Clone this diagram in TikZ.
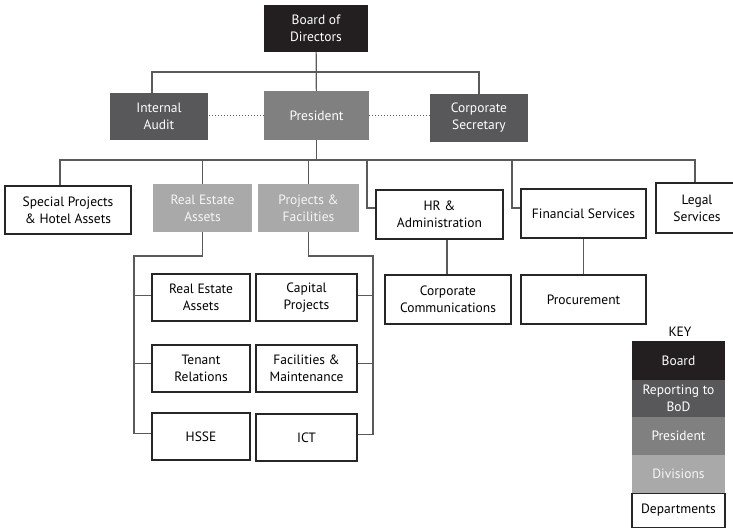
\documentclass[tikz,border=0pt]{standalone}
\usepackage{fontspec}
\setmainfont{PT Sans}
\usepackage{tikz}
\definecolor{cboard}{HTML}{231F20}
\definecolor{crep}{HTML}{58585A}
\definecolor{cpres}{HTML}{808080}
\definecolor{cdiv}{HTML}{A9A9A9}
\definecolor{cline}{HTML}{5A5A5A}
\begin{document}
\begin{tikzpicture}[x=1pt,y=-1pt,
  unit/.style={align=center,inner sep=0pt,font=\fontsize{13.5}{17}\selectfont},
  boardbox/.style={unit,fill=cboard,text=white},
  repbox/.style={unit,fill=crep,text=white},
  presbox/.style={unit,fill=cpres,text=white},
  divbox/.style={unit,fill=cdiv,text=white!90!cdiv},
  deptbox/.style={unit,draw=black!85,line width=1.1pt,fill=white},
  link/.style={draw=cline,line width=1.2pt}]
  \useasboundingbox (0,0) rectangle (733,529);
  \node[boardbox,minimum width=104,minimum height=47] (board) at (316,28.5) {Board of\\Directors};
  \node[repbox,minimum width=98,minimum height=47] (audit) at (159,116.5) {Internal\\Audit};
  \node[presbox,minimum width=105,minimum height=49] (pres) at (316.5,115.5) {President};
  \node[repbox,minimum width=98,minimum height=48] (secr) at (479,118) {Corporate\\Secretary};
  \node[deptbox,minimum width=126,minimum height=48] (spec) at (68,210) {Special Projects\\\& Hotel Assets};
  \node[divbox,minimum width=99,minimum height=48] (rea) at (202.5,208) {Real Estate\\Assets};
  \node[divbox,minimum width=101,minimum height=48] (paf) at (308.5,208) {Projects \&\\Facilities};
  \node[deptbox,minimum width=127,minimum height=49] (hr) at (439.5,214.5) {HR \&\\Administration};
  \node[deptbox,minimum width=125,minimum height=49] (fin) at (583.5,213.5) {Financial Services};
  \node[deptbox,minimum width=82,minimum height=50] (legal) at (697,208) {Legal\\Services};
  \node[deptbox,minimum width=126,minimum height=49] (comms) at (448,299.5) {Corporate\\Communications};
  \node[deptbox,minimum width=125,minimum height=49] (proc) at (583.5,299.5) {Procurement};
  \node[deptbox,minimum width=98,minimum height=47] (dre) at (201,297.5) {Real Estate\\Assets};
  \node[deptbox,minimum width=98,minimum height=47] (ten) at (201,368.5) {Tenant\\Relations};
  \node[deptbox,minimum width=98,minimum height=47] (hsse) at (201,436.5) {HSSE};
  \node[deptbox,minimum width=101,minimum height=47] (cap) at (306.5,297.5) {Capital\\Projects};
  \node[deptbox,minimum width=101,minimum height=47] (fac) at (306.5,368.5) {Facilities \&\\Maintenance};
  \node[deptbox,minimum width=101,minimum height=47] (ict) at (306.5,437.5) {ICT};
  \node[unit] (key) at (680,332) {KEY};
  \node[boardbox,minimum width=93,minimum height=39] (kboard) at (678.5,360.5) {Board};
  \node[repbox,minimum width=93,minimum height=37] (krep) at (678.5,398.5) {Reporting to\\BoD};
  \node[presbox,minimum width=93,minimum height=38] (kpres) at (678.5,436) {President};
  \node[divbox,minimum width=93,minimum height=38] (kdiv) at (678.5,474) {Divisions};
  \node[deptbox,minimum width=93,minimum height=34] (kdep) at (678.5,510.5) {Departments};
  \coordinate (bbus) at (316,72);
  \coordinate (pbus) at (314,160);
  \coordinate (hrx) at (367,160);
  \coordinate (finx) at (512,160);
  \coordinate (lbus) at (134,256);
  \coordinate (rbus) at (373,256);
  \draw[link] (board) -- (pres);
  \draw[link] ([xshift=-7pt]audit.north) |- (bbus) -| (secr.north);
  \draw[cline,dotted,line width=1pt] (pres.west) -- (pres.west -| audit.east);
  \draw[cline,dotted,line width=1pt] (pres.east) -- (pres.east -| secr.west);
  \draw[link] (pres.south) -- (pres.south |- pbus);
  \draw[link] ([xshift=-8pt]spec.north) |- (pbus) -| ([xshift=-2pt]legal.north);
  \draw[link] (rea.north) -- (rea.north |- pbus);
  \draw[link] (paf.north) -- (paf.north |- pbus);
  \draw[link] (hrx) |- ([yshift=6.5pt]hr.west);
  \draw[link] (finx) |- ([yshift=5.5pt]fin.west);
  \draw[link] ([xshift=7.5pt]hr.south) -- ([xshift=-1pt]comms.north);
  \draw[link] (fin) -- (proc);
  \draw[link] (rea.south) |- (lbus) |- ([yshift=3pt]hsse.west);
  \draw[link] (lbus |- dre.west) ++(0,-2) -- ([yshift=2pt]dre.west);
  \draw[link] (lbus |- ten.west) ++(0,-5) -- ([yshift=5pt]ten.west);
  \draw[link] (paf.south) |- (rbus) |- ([yshift=3pt]ict.east);
  \draw[link] (rbus |- cap.east) ++(0,-2) -- ([yshift=2pt]cap.east);
  \draw[link] (rbus |- fac.east) ++(0,-5) -- ([yshift=5pt]fac.east);
\end{tikzpicture}
\end{document}
